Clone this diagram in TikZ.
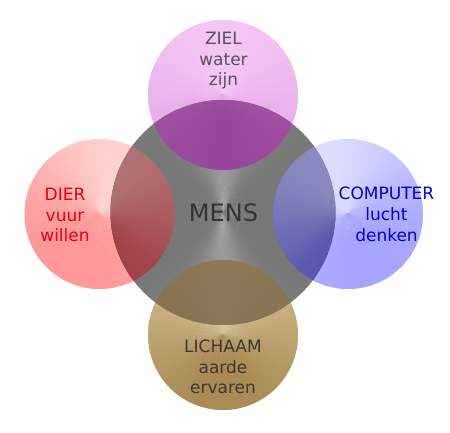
\documentclass[tikz,border=0pt]{standalone}
\usepackage{fontspec}
\setmainfont{DejaVu Sans}
\definecolor{pinkL}{HTML}{F4C6F4}
\definecolor{pinkD}{HTML}{E6A4E6}
\definecolor{pinkOL}{HTML}{A85CA8}
\definecolor{pinkOD}{HTML}{96469C}
\definecolor{redL}{HTML}{FFD2D2}
\definecolor{redD}{HTML}{FF9898}
\definecolor{redOL}{HTML}{B07274}
\definecolor{redOD}{HTML}{A03840}
\definecolor{blueL}{HTML}{DCDCFF}
\definecolor{blueD}{HTML}{A6A6FF}
\definecolor{blueOL}{HTML}{8A8AC0}
\definecolor{blueOD}{HTML}{4A4AA8}
\definecolor{brownL}{HTML}{D4C094}
\definecolor{brownD}{HTML}{A88A52}
\definecolor{brownOL}{HTML}{8C7856}
\definecolor{brownOD}{HTML}{7C6646}
\definecolor{grayL}{HTML}{9A9A9A}
\definecolor{grayD}{HTML}{787878}
\definecolor{zielc}{HTML}{5E4E5E}
\definecolor{dierc}{HTML}{E80010}
\definecolor{compc}{HTML}{0000CC}
\definecolor{lichc}{HTML}{3C3833}
\definecolor{mensc}{HTML}{333333}
\newcommand\conefill[5]{%
  \foreach \a in {0,2,...,358}{%
    \pgfmathsetmacro\mixp{min(100,max(0,100*(#5)))}%
    \fill[#3!\mixp!#4] (#1) -- ++(\a:#2) arc[start angle=\a, end angle=\a+2.8, radius=#2] -- cycle;
  }}
\tikzset{lbl/.style={font=\fontsize{17}{20.8}\selectfont, align=center, inner sep=0pt, anchor=base}}
\begin{document}
\begin{tikzpicture}[x=1pt,y=1pt]
\useasboundingbox (0,0) rectangle (450,433);
\fill[white] (0,0) rectangle (450,433);
\coordinate (cz) at (223,338);
\coordinate (cd) at (99.5,219);
\coordinate (cc) at (348,219);
\coordinate (cl) at (223,98);
\coordinate (cm) at (223,220.5);
% outer circles
\conefill{cz}{75}{pinkL}{pinkD}{((1.001+cos(\a+1.4-90))/2)}
\conefill{cd}{75}{redL}{redD}{((1.001+cos(\a+1.4-65))/2)^1.5}
\conefill{cc}{75}{blueL}{blueD}{((1.001+cos(\a+1.4-115))/2)^1.5}
\conefill{cl}{75}{brownL}{brownD}{((1.001+cos(\a+1.4-90))/2)}
% centre circle
\conefill{cm}{112.5}{grayL}{grayD}{(abs(sin(\a+1.4))+0.001)^10}
% overlaps
\begin{scope}
\clip (cm) circle[radius=112.5];
\conefill{cz}{75}{pinkOL}{pinkOD}{((1.001+cos(\a+1.4-90))/2)^0.7}
\conefill{cd}{75}{redOL}{redOD}{((1.001+cos(\a+1.4-75))/2)}
\conefill{cc}{75}{blueOL}{blueOD}{((1.001+cos(\a+1.4-115))/2)}
\conefill{cl}{75}{brownOL}{brownOD}{((1.001+cos(\a+1.4-90))/2)}
\end{scope}
% labels (base anchor = baseline of last line)
\node[lbl, text=zielc] (ziel) at (223.5,347) {ZIEL\\water\\zijn};
\node[lbl, text=dierc] (dier) at (65,191) {DIER\\vuur\\willen};
\node[lbl, text=compc] (comp) at (386.5,191.5) {COMPUTER\\lucht\\denken};
\node[lbl, text=lichc] (lich) at (223,39) {LICHAAM\\aarde\\ervaren};
\node[font=\fontsize{24}{28}\selectfont, text=mensc, inner sep=0pt, anchor=base] (mens) at (223.5,211) {MENS};
\end{tikzpicture}
\end{document}
